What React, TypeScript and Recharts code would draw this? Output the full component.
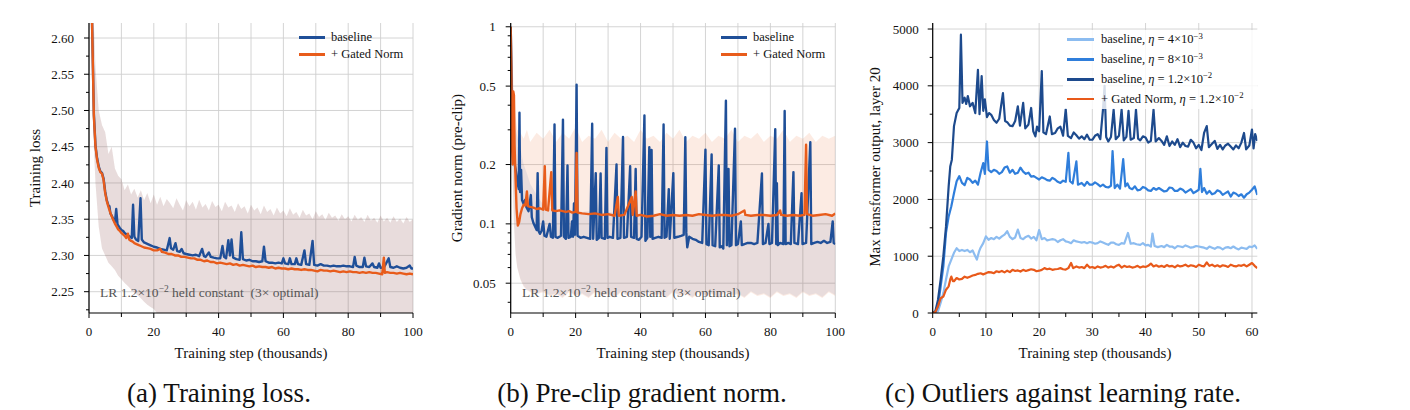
import React from 'react';
import { ComposedChart, Line, Area, XAxis, YAxis, CartesianGrid, Legend } from 'recharts';

const SERIF = '"Liberation Serif", "Times New Roman", Times, serif';
const BLUE = '#1f4f98';
const ORANGE = '#e85c1b';
const C_LIGHT = '#8cbcf0';
const C_MID = '#2f7edb';
const C_DARK = '#1d4a8d';
const C_ORANGE = '#e8591a';
const GRID = '#cfcfcf';

// ---------------- Panel (a): training loss ----------------
const A_X_TICKS = [0, 10, 20, 30, 40, 50, 60, 70, 80, 90, 100];
const A_X_LABELS = [0, 20, 40, 60, 80, 100];
const A_Y_TICKS = [2.225, 2.25, 2.275, 2.3, 2.325, 2.35, 2.375, 2.4, 2.425, 2.45, 2.475, 2.5, 2.525, 2.55, 2.575, 2.6];
const A_Y_LABELS = [2.25, 2.3, 2.35, 2.4, 2.45, 2.5, 2.55, 2.6];

const A_BASELINE: [number, number][] = [
  [0.9, 2.63], [1.5, 2.495], [2, 2.452], [2.5, 2.434], [3, 2.423], [3.5, 2.416], [4, 2.414], [4.5, 2.406],
  [5, 2.388], [5.5, 2.376], [6, 2.369], [6.3, 2.368], [6.6, 2.358], [7, 2.355], [7.5, 2.350], [8, 2.346],
  [8.4, 2.364], [8.8, 2.343], [9.5, 2.338], [10, 2.335], [10.5, 2.334], [11, 2.331], [12, 2.328], [12.5, 2.326],
  [13.2, 2.324], [13.6, 2.370], [14.0, 2.326], [14.5, 2.322], [15.2, 2.320], [15.9, 2.379], [16.3, 2.322],
  [17, 2.318], [18, 2.316], [19, 2.314], [19.5, 2.313], [20, 2.312], [21, 2.311], [22, 2.309], [23, 2.308],
  [24, 2.307], [24.9, 2.324], [25.3, 2.310], [26, 2.308], [26.7, 2.317], [27.2, 2.306], [28, 2.305],
  [28.6, 2.309], [29.2, 2.303], [30, 2.302], [31, 2.301], [32, 2.300], [33, 2.301], [34, 2.299], [34.9, 2.309],
  [35.5, 2.299], [36, 2.298], [37, 2.304], [37.6, 2.298], [38.5, 2.297], [39.5, 2.296], [40.5, 2.296],
  [41.2, 2.313], [41.7, 2.298], [42.3, 2.296], [43, 2.321], [43.5, 2.300], [44, 2.322], [44.5, 2.297],
  [45.5, 2.295], [46.5, 2.294], [47, 2.332], [47.5, 2.295], [48.5, 2.293], [49.5, 2.294], [50.5, 2.292],
  [51.5, 2.292], [52.5, 2.291], [53.5, 2.292], [54, 2.312], [54.5, 2.292], [55.5, 2.290], [56.5, 2.290],
  [57.5, 2.289], [58.5, 2.290], [59.5, 2.289], [60, 2.296], [60.5, 2.289], [61.5, 2.288], [62, 2.296],
  [62.5, 2.288], [63.5, 2.288], [64, 2.296], [64.5, 2.288], [65.5, 2.287], [66.5, 2.307], [67, 2.288],
  [68, 2.287], [69, 2.320], [69.5, 2.287], [70.5, 2.286], [71.5, 2.288], [72.5, 2.286], [73.5, 2.286],
  [74.5, 2.285], [75.5, 2.286], [76.5, 2.285], [77.5, 2.285], [78.5, 2.286], [79.5, 2.285], [80.5, 2.285],
  [81.5, 2.284], [82, 2.298], [82.5, 2.286], [83.5, 2.284], [84.5, 2.284], [85, 2.297], [85.5, 2.285],
  [86.5, 2.284], [87.5, 2.289], [88, 2.284], [89, 2.283], [89.5, 2.289], [90, 2.283], [91, 2.283],
  [92.5, 2.296], [93, 2.284], [94, 2.283], [95, 2.285], [96, 2.283], [97, 2.282], [98, 2.283], [99, 2.286],
  [99.5, 2.282], [100, 2.282],
];

const A_GATED: [number, number][] = [
  [0.9, 2.63], [1.5, 2.492], [2, 2.450], [2.5, 2.432], [3, 2.421], [3.5, 2.415], [4, 2.413], [4.5, 2.404],
  [5, 2.386], [5.5, 2.375], [6, 2.367], [6.5, 2.360], [7, 2.354], [7.5, 2.349], [8, 2.344], [8.5, 2.340],
  [9, 2.336], [9.5, 2.334], [10, 2.331], [10.5, 2.329], [11, 2.327], [11.5, 2.324], [12, 2.330], [12.4, 2.322],
  [13, 2.320], [13.5, 2.319], [14, 2.317], [14.5, 2.316], [15, 2.315], [16, 2.313], [17, 2.311], [18, 2.310],
  [19, 2.309], [20, 2.307], [21, 2.307], [22, 2.309], [22.5, 2.305], [23.5, 2.304], [24.5, 2.302], [25.5, 2.302],
  [26.5, 2.300], [27.5, 2.300], [28.5, 2.298], [29.5, 2.298], [30.5, 2.297], [31.5, 2.296], [32.5, 2.296],
  [33.5, 2.294], [34.5, 2.294], [35.5, 2.292], [36.5, 2.293], [37.5, 2.291], [38.5, 2.291], [39.5, 2.289],
  [40.5, 2.290], [41.5, 2.289], [42.5, 2.288], [43.5, 2.289], [44.5, 2.287], [45.5, 2.288], [46.5, 2.286],
  [47.5, 2.287], [48.5, 2.286], [49.5, 2.285], [50.5, 2.286], [51.5, 2.284], [52.5, 2.285], [53.5, 2.284],
  [54.5, 2.284], [55.5, 2.283], [56.5, 2.284], [57.5, 2.282], [58.5, 2.283], [59.5, 2.282], [60.5, 2.282],
  [61.5, 2.281], [62.5, 2.282], [63.5, 2.281], [64.5, 2.281], [65.5, 2.280], [66.5, 2.281], [67.5, 2.280],
  [68.5, 2.280], [69.5, 2.279], [70.5, 2.278], [71.5, 2.280], [72.5, 2.279], [73.5, 2.279], [74.5, 2.278],
  [75.5, 2.279], [76.5, 2.278], [77.5, 2.277], [78.5, 2.278], [79.5, 2.277], [80.5, 2.278], [81.5, 2.277],
  [82.5, 2.277], [83.5, 2.276], [84.5, 2.277], [85.5, 2.276], [86.5, 2.277], [87.5, 2.276], [88.5, 2.276],
  [89.5, 2.275], [90.5, 2.274], [91, 2.297], [91.3, 2.276], [92, 2.277], [93, 2.276], [94, 2.276], [95, 2.275],
  [96, 2.276], [97, 2.275], [98, 2.274], [99, 2.275], [100, 2.274],
];

// raw-data spread around both runs (x, low, high)
const A_BAND: [number, number, number][] = [
  [1, 2.58, 2.70], [1.5, 2.45, 2.62], [2, 2.40, 2.56], [3, 2.34, 2.50], [4, 2.31, 2.48], [5, 2.30, 2.47],
  [6, 2.29, 2.44], [7, 2.285, 2.45], [8, 2.28, 2.42], [9, 2.272, 2.41], [10, 2.267, 2.405], [11, 2.262, 2.39],
  [12, 2.258, 2.398], [13, 2.253, 2.384], [14, 2.249, 2.392], [15, 2.245, 2.38], [16, 2.241, 2.39],
  [17, 2.236, 2.376], [18, 2.232, 2.386], [19, 2.229, 2.372], [20, 2.226, 2.384], [21, 2.22, 2.37],
  [22, 2.215, 2.381], [23, 2.21, 2.368], [24, 2.21, 2.378], [25, 2.21, 2.372], [26, 2.21, 2.365],
  [27, 2.21, 2.379], [28, 2.21, 2.37], [29, 2.21, 2.362], [30, 2.21, 2.376], [31, 2.21, 2.368], [32, 2.21, 2.374],
  [33, 2.21, 2.363], [34, 2.21, 2.377], [35, 2.21, 2.366], [36, 2.21, 2.371], [37, 2.21, 2.362], [38, 2.21, 2.375],
  [39, 2.21, 2.367], [40, 2.21, 2.37], [41, 2.21, 2.361], [42, 2.21, 2.374], [43, 2.21, 2.366], [44, 2.21, 2.369],
  [45, 2.21, 2.36], [46, 2.21, 2.372], [47, 2.21, 2.364], [48, 2.21, 2.368], [49, 2.21, 2.358], [50, 2.21, 2.37],
  [51, 2.21, 2.362], [52, 2.21, 2.366], [53, 2.21, 2.357], [54, 2.21, 2.369], [55, 2.21, 2.36], [56, 2.21, 2.364],
  [57, 2.21, 2.355], [58, 2.21, 2.366], [59, 2.21, 2.358], [60, 2.21, 2.362], [61, 2.21, 2.354], [62, 2.21, 2.365],
  [63, 2.21, 2.356], [64, 2.21, 2.36], [65, 2.21, 2.352], [66, 2.21, 2.363], [67, 2.21, 2.355], [68, 2.21, 2.358],
  [69, 2.21, 2.35], [70, 2.21, 2.361], [71, 2.21, 2.353], [72, 2.21, 2.357], [73, 2.21, 2.349], [74, 2.21, 2.359],
  [75, 2.21, 2.352], [76, 2.21, 2.355], [77, 2.21, 2.348], [78, 2.21, 2.357], [79, 2.21, 2.35], [80, 2.21, 2.354],
  [81, 2.21, 2.347], [82, 2.21, 2.356], [83, 2.21, 2.349], [84, 2.21, 2.353], [85, 2.21, 2.346], [86, 2.21, 2.356],
  [87, 2.21, 2.348], [88, 2.21, 2.352], [89, 2.21, 2.345], [90, 2.21, 2.355], [91, 2.21, 2.347], [92, 2.21, 2.352],
  [93, 2.21, 2.345], [94, 2.21, 2.354], [95, 2.21, 2.346], [96, 2.21, 2.351], [97, 2.21, 2.344], [98, 2.21, 2.353],
  [99, 2.21, 2.346], [100, 2.21, 2.35],
];

// ---------------- Panel (b): gradient norm ----------------
const B_Y_TICKS = [0.04, 0.05, 0.06, 0.07, 0.08, 0.09, 0.1, 0.2, 0.3, 0.4, 0.5, 0.6, 0.7, 0.8, 0.9, 1];
const B_Y_LABELS = [0.05, 0.1, 0.2, 0.5, 1];

const B_BASELINE: [number, number][] = [
  [0, 1.0], [0.3, 0.55], [0.6, 0.28], [1, 0.21], [1.5, 0.19], [2, 0.165], [2.5, 0.15], [2.7, 0.366], [2.9, 0.145],
  [3.2, 0.188], [3.5, 0.132], [4, 0.126], [4.4, 0.132], [4.8, 0.122], [5.5, 0.116], [6.2, 0.14], [6.5, 0.108],
  [7, 0.101], [7.5, 0.097], [8, 0.093], [8.3, 0.181], [8.6, 0.092], [9, 0.089], [9.5, 0.092], [10, 0.103],
  [10.4, 0.087], [11, 0.086], [12, 0.1], [12.4, 0.086], [13, 0.085], [13.5, 0.319], [13.8, 0.086], [14.5, 0.085],
  [15.5, 0.087], [16.1, 0.338], [16.4, 0.086], [17, 0.084], [17.5, 0.198], [17.8, 0.085], [18.5, 0.086],
  [18.9, 0.103], [19.2, 0.086], [19.5, 0.127], [19.8, 0.088], [20.3, 0.508], [20.6, 0.087], [21.5, 0.085],
  [22.5, 0.086], [23.5, 0.085], [24.5, 0.084], [25.1, 0.322], [25.4, 0.084], [26.2, 0.181], [26.5, 0.083],
  [27.2, 0.085], [27.7, 0.18], [28, 0.085], [29, 0.084], [29.5, 0.243], [29.8, 0.085], [30.5, 0.086],
  [31.5, 0.085], [32.6, 0.2], [32.9, 0.084], [33.8, 0.085], [34.6, 0.276], [34.9, 0.085], [35.8, 0.086],
  [36.8, 0.196], [37.1, 0.086], [38, 0.085], [38.5, 0.19], [38.8, 0.084], [39.5, 0.083], [40.3, 0.086],
  [41.2, 0.355], [41.5, 0.082], [42.1, 0.085], [42.7, 0.245], [43, 0.086], [43.4, 0.237], [43.7, 0.084],
  [44.5, 0.085], [45.5, 0.086], [46.5, 0.085], [47.1, 0.319], [47.4, 0.085], [48, 0.086], [48.7, 0.15],
  [49, 0.084], [50.1, 0.181], [50.4, 0.085], [51.5, 0.086], [52.5, 0.087], [53.3, 0.088], [53.8, 0.275],
  [54.1, 0.09], [54.4, 0.076], [55, 0.086], [56, 0.084], [57, 0.083], [58, 0.081], [59, 0.08], [60, 0.238],
  [60.3, 0.079], [61, 0.078], [61.9, 0.225], [62.2, 0.078], [63, 0.077], [64.1, 0.198], [64.4, 0.076],
  [65, 0.077], [65.5, 0.075], [66.3, 0.421], [66.6, 0.078], [67.1, 0.19], [67.4, 0.077], [68, 0.078],
  [69.1, 0.304], [69.4, 0.078], [70, 0.079], [70.9, 0.103], [71.2, 0.078], [72, 0.079], [73, 0.08], [74, 0.08],
  [75, 0.079], [76, 0.08], [77.4, 0.18], [77.7, 0.079], [78.5, 0.08], [79.4, 0.1], [79.7, 0.079], [80.5, 0.08],
  [81.5, 0.302], [81.8, 0.079], [82, 0.161], [82.3, 0.078], [83, 0.08], [84, 0.079], [84.4, 0.374], [84.7, 0.079],
  [85.5, 0.08], [86.3, 0.079], [87.1, 0.183], [87.4, 0.08], [88.5, 0.079], [89.6, 0.143], [89.9, 0.079],
  [91, 0.08], [92.3, 0.26], [92.6, 0.079], [93.5, 0.08], [94.5, 0.081], [95.5, 0.08], [96.5, 0.082],
  [97.5, 0.08], [98.5, 0.081], [99.2, 0.103], [99.5, 0.08], [100, 0.079],
];

const B_GATED: [number, number][] = [
  [0, 1.0], [0.2, 0.6], [0.4, 0.25], [0.6, 0.2], [0.8, 0.47], [1.0, 0.45], [1.2, 0.25], [1.5, 0.17], [1.8, 0.12],
  [2.2, 0.098], [2.6, 0.102], [3, 0.112], [3.5, 0.12], [4, 0.125], [4.5, 0.124], [5, 0.146], [5.3, 0.123],
  [6, 0.122], [7, 0.121], [8, 0.119], [9, 0.12], [10, 0.118], [10.5, 0.196], [10.8, 0.118], [11.5, 0.117],
  [12.5, 0.183], [12.8, 0.117], [14, 0.116], [15, 0.117], [16, 0.116], [17, 0.115], [18, 0.116], [19, 0.114],
  [20, 0.115], [20.3, 0.229], [20.6, 0.114], [22, 0.113], [24, 0.112], [26, 0.113], [28, 0.111], [30, 0.112],
  [32, 0.11], [33, 0.137], [33.3, 0.11], [35, 0.111], [37.3, 0.137], [37.6, 0.111], [38.5, 0.146], [38.8, 0.11],
  [40, 0.111], [42, 0.109], [44, 0.11], [46, 0.112], [48, 0.11], [50, 0.111], [52, 0.11], [54, 0.111],
  [56, 0.11], [58, 0.112], [60, 0.111], [62, 0.11], [64, 0.111], [66, 0.111], [68, 0.11], [70, 0.112],
  [72, 0.117], [72.3, 0.111], [74, 0.11], [76, 0.111], [78, 0.111], [80, 0.11], [82, 0.111], [83, 0.117],
  [83.3, 0.111], [85, 0.11], [87, 0.111], [89, 0.11], [90.5, 0.111], [91, 0.252], [91.3, 0.112], [93, 0.11],
  [95, 0.111], [97, 0.112], [99, 0.11], [100, 0.113],
];

// raw-data spread (x, low, high of baseline, high of gated)
const B_BAND: [number, number, number, number][] = [
  [0.5, 0.2, 0.5, 0.7], [1, 0.1, 0.32, 0.45], [1.5, 0.07, 0.3, 0.35], [2, 0.06, 0.28, 0.3], [3, 0.052, 0.24, 0.29],
  [4, 0.048, 0.2, 0.27], [5, 0.046, 0.18, 0.3], [6, 0.045, 0.16, 0.26], [8, 0.044, 0.14, 0.29], [10, 0.045, 0.125, 0.27],
  [12, 0.043, 0.12, 0.3], [14, 0.044, 0.118, 0.26], [16, 0.042, 0.117, 0.29], [18, 0.045, 0.116, 0.27],
  [20, 0.043, 0.117, 0.31], [22, 0.044, 0.115, 0.26], [24, 0.042, 0.116, 0.28], [26, 0.045, 0.115, 0.27],
  [28, 0.043, 0.114, 0.3], [30, 0.044, 0.115, 0.26], [32, 0.042, 0.114, 0.29], [34, 0.045, 0.113, 0.27],
  [36, 0.043, 0.114, 0.28], [38, 0.044, 0.113, 0.26], [40, 0.042, 0.113, 0.3], [42, 0.045, 0.112, 0.27],
  [44, 0.043, 0.113, 0.28], [46, 0.044, 0.112, 0.26], [48, 0.042, 0.112, 0.29], [50, 0.045, 0.112, 0.27],
  [52, 0.043, 0.112, 0.3], [54, 0.044, 0.111, 0.26], [56, 0.042, 0.112, 0.28], [58, 0.045, 0.111, 0.27],
  [60, 0.043, 0.111, 0.29], [62, 0.044, 0.111, 0.26], [64, 0.042, 0.111, 0.28], [66, 0.045, 0.111, 0.27],
  [68, 0.043, 0.111, 0.3], [70, 0.044, 0.111, 0.26], [72, 0.042, 0.111, 0.28], [74, 0.045, 0.111, 0.27],
  [76, 0.043, 0.111, 0.29], [78, 0.044, 0.111, 0.26], [80, 0.042, 0.111, 0.28], [82, 0.045, 0.111, 0.27],
  [84, 0.043, 0.111, 0.3], [86, 0.044, 0.111, 0.26], [88, 0.042, 0.111, 0.28], [90, 0.045, 0.111, 0.27],
  [92, 0.043, 0.111, 0.29], [94, 0.044, 0.111, 0.26], [96, 0.042, 0.111, 0.28], [98, 0.045, 0.111, 0.27],
  [100, 0.043, 0.111, 0.28],
];

// ---------------- Panel (c): outliers vs learning rate ----------------
const C_X_TICKS = [0, 5, 10, 15, 20, 25, 30, 35, 40, 45, 50, 55, 60];
const C_X_LABELS = [0, 10, 20, 30, 40, 50, 60];
const C_Y_TICKS = [0, 500, 1000, 1500, 2000, 2500, 3000, 3500, 4000, 4500, 5000];
const C_Y_LABELS = [0, 1000, 2000, 3000, 4000, 5000];

const C_ETA_4E3: [number, number][] = [
  [0, 0], [0.5, 0], [1, 30], [1.5, 180], [2, 350], [2.5, 590], [3, 820], [3.5, 940], [4, 1060], [4.5, 1140],
  [5, 1090], [5.5, 1110], [6, 1090], [6.5, 1110], [7, 1070], [7.5, 1100], [8, 1000], [8.3, 940], [8.7, 1080],
  [9, 1150], [9.5, 1230], [10, 1350], [10.5, 1290], [11, 1320], [11.5, 1300], [12, 1340], [12.5, 1310],
  [13, 1350], [13.5, 1380], [14, 1440], [14.5, 1340], [15, 1300], [15.5, 1330], [16, 1470], [16.5, 1320],
  [17, 1300], [17.5, 1340], [18, 1360], [18.5, 1310], [19, 1340], [19.5, 1280], [20, 1460], [20.5, 1300],
  [21, 1320], [21.5, 1280], [22, 1290], [22.5, 1300], [23, 1290], [23.5, 1250], [24, 1280], [24.5, 1300],
  [25, 1260], [25.5, 1250], [26, 1230], [26.5, 1280], [27, 1260], [27.5, 1250], [28, 1240], [28.5, 1250],
  [29, 1230], [29.5, 1250], [30, 1240], [30.5, 1220], [31, 1230], [31.5, 1260], [32, 1240], [32.5, 1220],
  [33, 1200], [33.5, 1240], [34, 1240], [34.5, 1210], [35, 1200], [35.5, 1230], [36, 1220], [36.7, 1410],
  [37.2, 1220], [37.8, 1230], [38.3, 1210], [39, 1200], [39.5, 1230], [40, 1190], [40.5, 1200], [41, 1170],
  [41.3, 1400], [41.7, 1180], [42.3, 1160], [43, 1180], [43.5, 1160], [44, 1200], [44.5, 1170], [45, 1170],
  [45.5, 1140], [46, 1180], [46.5, 1170], [47, 1160], [47.5, 1190], [48, 1170], [48.5, 1150], [49, 1160],
  [49.5, 1180], [50, 1170], [50.5, 1160], [51, 1150], [51.5, 1130], [52, 1170], [52.5, 1150], [53, 1130],
  [53.5, 1160], [54, 1150], [54.5, 1120], [55, 1150], [55.5, 1160], [56, 1140], [56.5, 1170], [57, 1140],
  [57.5, 1120], [58, 1150], [58.5, 1140], [59, 1130], [59.5, 1170], [60, 1160], [60.5, 1190], [61, 1130],
];

const C_ETA_8E3: [number, number][] = [
  [0, 0], [0.5, 10], [1, 120], [1.5, 470], [2, 820], [2.5, 1410], [3, 1700], [3.5, 1880], [4, 2110], [4.5, 2320],
  [5, 2410], [5.5, 2290], [6, 2250], [6.5, 2380], [7, 2350], [7.5, 2290], [8, 2330], [8.5, 2260], [9, 2470],
  [9.5, 2640], [9.8, 2450], [10.2, 3020], [10.5, 2520], [11, 2480], [11.5, 2520], [12, 2500], [12.5, 2450],
  [13, 2480], [13.5, 2560], [14, 2580], [14.5, 2470], [15, 2520], [15.5, 2450], [16, 2470], [16.5, 2560],
  [17, 2490], [17.5, 2450], [18, 2470], [18.5, 2400], [19, 2410], [19.5, 2380], [20, 2350], [20.5, 2390],
  [21, 2370], [21.5, 2340], [22, 2330], [22.5, 2380], [23, 2350], [23.5, 2310], [24, 2290], [24.5, 2330],
  [25, 2310], [25.5, 2820], [25.8, 2320], [26.3, 2280], [27, 2670], [27.3, 2260], [28, 2290], [28.5, 2240],
  [29, 2310], [29.5, 2260], [30, 2260], [30.5, 2300], [31, 2270], [31.5, 2230], [32, 2260], [32.5, 2220],
  [33, 2210], [33.5, 2240], [33.8, 2850], [34.2, 2200], [34.7, 2260], [35.2, 2190], [35.8, 2710], [36.2, 2230],
  [36.6, 2280], [37, 2200], [37.5, 2180], [38, 2230], [38.5, 2160], [39, 2170], [39.5, 2220], [40, 2200],
  [40.5, 2160], [41, 2150], [41.5, 2200], [42, 2170], [42.5, 2200], [43, 2170], [43.5, 2140], [44, 2150],
  [44.5, 2210], [45, 2200], [45.5, 2150], [46, 2150], [46.5, 2190], [47, 2170], [47.5, 2120], [48, 2150],
  [48.5, 2180], [49, 2110], [49.5, 2140], [50, 2170], [50.3, 2540], [50.6, 2130], [51, 2200], [51.5, 2100],
  [52, 2150], [52.5, 2090], [53, 2110], [53.5, 2160], [54, 2140], [54.5, 2080], [55, 2110], [55.5, 2140],
  [56, 2050], [56.5, 2120], [57, 2100], [57.5, 2060], [58, 2090], [58.5, 2030], [59, 2090], [59.5, 2120],
  [60, 2170], [60.5, 2230], [61, 2080],
];

const C_ETA_12E3: [number, number][] = [
  [0, 0], [0.5, 30], [1, 235], [1.5, 590], [2, 1000], [2.5, 1520], [3, 2230], [3.3, 2580], [3.6, 2700],
  [4, 3290], [4.5, 3520], [5, 3610], [5.3, 4900], [5.6, 3700], [6, 3790], [6.3, 3680], [6.6, 3820], [7, 3640],
  [7.5, 3700], [8, 3520], [8.5, 4280], [8.8, 3500], [9.2, 4170], [9.5, 3560], [9.8, 3760], [10.2, 3450],
  [10.6, 3520], [11, 3490], [11.5, 3400], [12, 3350], [12.5, 3420], [13.2, 3870], [13.6, 3380], [14, 3360],
  [14.5, 3300], [15, 3290], [15.5, 3380], [16, 3640], [16.4, 3300], [17, 3700], [17.4, 3250], [18, 3320],
  [18.5, 3610], [18.9, 3200], [19.3, 3110], [19.6, 3280], [20, 3200], [20.5, 4260], [20.8, 3180], [21.3, 3150],
  [22, 3460], [22.4, 3150], [23, 3170], [23.5, 3250], [24, 3280], [24.5, 3120], [25, 3590], [25.4, 3120],
  [26, 3080], [26.5, 3180], [27, 3130], [27.5, 3070], [28, 3110], [28.5, 3060], [29, 3140], [29.5, 3050],
  [30, 3050], [30.5, 3120], [31, 3150], [31.5, 3060], [32, 3580], [32.3, 4000], [32.6, 3100], [33, 3020],
  [33.5, 3100], [34, 3580], [34.4, 3060], [35, 3120], [35.5, 3580], [35.9, 3040], [36.4, 3100], [36.8, 3560],
  [37.2, 3050], [37.8, 3080], [38.2, 3580], [38.6, 3070], [39, 3040], [39.5, 3110], [40, 3090], [40.5, 3000],
  [41, 3030], [41.5, 3580], [41.9, 3020], [42.5, 3080], [43, 3030], [43.5, 2960], [44, 3110], [44.5, 2940],
  [45, 3020], [45.5, 2960], [46, 3060], [46.5, 2920], [47, 3000], [47.5, 2940], [48, 2930], [48.5, 3050],
  [49, 3000], [49.5, 2900], [50, 2960], [50.5, 2870], [51, 3170], [51.5, 3290], [51.9, 2920], [52.5, 2980],
  [53, 3030], [53.5, 2890], [54, 2960], [54.5, 2880], [55, 2950], [55.5, 2980], [56, 2930], [56.5, 2880],
  [57, 2950], [57.5, 2900], [58, 3000], [58.5, 3170], [58.9, 2880], [59.5, 2950], [60, 3230], [60.3, 2900],
  [60.6, 3150], [61, 3030],
];

const C_GATED_12E3: [number, number][] = [
  [0, 0], [0.5, 15], [1, 120], [1.5, 260], [2, 290], [2.5, 410], [3, 470], [3.3, 590], [3.5, 640], [3.8, 560],
  [4, 560], [4.5, 615], [5, 590], [5.5, 600], [6, 640], [6.5, 620], [7, 640], [7.5, 660], [8, 670], [8.5, 690],
  [9, 700], [9.5, 680], [10, 700], [10.5, 720], [11, 715], [11.5, 700], [12, 735], [12.5, 720], [13, 740],
  [13.5, 715], [14, 745], [14.5, 720], [15, 760], [15.5, 740], [16, 750], [16.5, 730], [17, 760], [17.5, 740],
  [18, 755], [18.5, 770], [19, 760], [19.5, 735], [20, 745], [20.5, 760], [21, 790], [21.5, 770], [22, 780],
  [22.5, 760], [23, 770], [23.5, 775], [24, 790], [24.5, 770], [25, 765], [25.5, 790], [26, 880], [26.4, 790],
  [27, 820], [27.5, 800], [28, 810], [28.5, 790], [29, 850], [29.5, 800], [30, 810], [30.5, 790], [31, 820],
  [31.5, 800], [32, 810], [32.5, 830], [33, 800], [33.5, 820], [34, 800], [34.5, 830], [35, 850], [35.5, 800],
  [36, 830], [36.5, 810], [37, 820], [37.5, 800], [38, 810], [38.5, 830], [39, 800], [39.5, 820], [40, 810],
  [40.5, 830], [41, 870], [41.5, 820], [42, 840], [42.5, 815], [43, 830], [43.5, 810], [44, 845], [44.5, 820],
  [45, 830], [45.5, 805], [46, 840], [46.5, 820], [47, 830], [47.5, 850], [48, 820], [48.5, 840], [49, 830],
  [49.5, 810], [50, 850], [50.5, 830], [51, 820], [51.5, 890], [52, 830], [52.5, 850], [53, 820], [53.5, 840],
  [54, 815], [54.5, 840], [55, 830], [55.5, 810], [56, 850], [56.5, 830], [57, 820], [57.5, 840], [58, 830],
  [58.5, 850], [59, 820], [59.5, 850], [60, 880], [60.5, 830], [61, 790],
];

// ---------------- helpers ----------------
const pts = (arr: [number, number][]) => arr.map(([x, y]) => ({ x, y }));
const isIn = (arr: number[], v: number) => arr.some((a) => Math.abs(a - v) < 1e-9);

const A_BAND_DATA = A_BAND.map(([x, lo, hi]) => ({ x, range: [lo, hi] }));
const B_BAND_BASE_DATA = B_BAND.map(([x, lo, hiB]) => ({ x, range: [lo + 0.0005, hiB] }));
const B_BAND_GATED_DATA = B_BAND.map(([x, lo, , hiG]) => ({ x, range: [lo, hiG] }));

const makeYTick = (labels: number[], fmt: (v: number) => string, margin: number) => (props: any) => {
  const { x, y, payload } = props;
  const v = payload.value;
  const major = isIn(labels, v);
  const ax = x + margin;
  return (
    <g>
      <line x1={ax - (major ? 5 : 3)} x2={ax} y1={y} y2={y} stroke="#000" strokeWidth={1} />
      {major && (
        <text x={x} y={y} dy="0.35em" textAnchor="end" fontFamily={SERIF} fontSize={13} fill="#111">
          {fmt(v)}
        </text>
      )}
    </g>
  );
};

const makeXTick = (labels: number[], margin: number) => (props: any) => {
  const { x, y, payload } = props;
  const v = payload.value;
  const major = isIn(labels, v);
  const ay = y - margin;
  return (
    <g>
      <line x1={x} x2={x} y1={ay} y2={ay + (major ? 5 : 4)} stroke="#000" strokeWidth={1} />
      {major && (
        <text x={x} y={y} dy="0.71em" textAnchor="middle" fontFamily={SERIF} fontSize={13} fill="#111">
          {String(v)}
        </text>
      )}
    </g>
  );
};

const AXIS_LINE = { stroke: '#000', strokeWidth: 1.2 };

const LEGEND_AB = [
  { label: 'baseline', color: BLUE },
  { label: '+ Gated Norm', color: ORANGE },
];

const LEGEND_C = [
  { name: 'baseline', mant: '4×10', exp: '−3', color: C_LIGHT },
  { name: 'baseline', mant: '8×10', exp: '−3', color: C_MID },
  { name: 'baseline', mant: '1.2×10', exp: '−2', color: C_DARK },
  { name: '+ Gated Norm', mant: '1.2×10', exp: '−2', color: C_ORANGE },
];

const LegendAB = () => (
  <div style={{ fontFamily: SERIF, fontSize: 12.5, color: '#111' }}>
    {LEGEND_AB.map((it) => (
      <div key={it.label} style={{ display: 'flex', alignItems: 'center', height: 16.6, whiteSpace: 'nowrap' }}>
        <div style={{ width: 26, height: 2.8, background: it.color, marginRight: 6 }} />
        <span>{it.label}</span>
      </div>
    ))}
  </div>
);

const LegendC = () => (
  <div
    style={{
      fontFamily: SERIF,
      fontSize: 12.5,
      color: '#111',
      background: 'rgba(255,255,255,0.82)',
      padding: '0 6px 0 4px',
      width: 184,
    }}
  >
    {LEGEND_C.map((it, i) => (
      <div key={i} style={{ display: 'flex', alignItems: 'center', height: 19.8, whiteSpace: 'nowrap' }}>
        <div style={{ width: 27, height: 2.8, background: it.color, marginRight: 7 }} />
        <span>
          {it.name}, <i>η</i> = {it.mant}
          <span style={{ fontSize: '0.7em', position: 'relative', top: '-0.5em' }}>{it.exp}</span>
        </span>
      </div>
    ))}
  </div>
);

const lineProps = { type: 'linear' as const, dataKey: 'y', dot: false, isAnimationActive: false, strokeLinejoin: 'round' as const };

function PanelA() {
  return (
    <ComposedChart width={430} height={370} margin={{ top: 23, right: 17, bottom: 27, left: 39 }}>
      <CartesianGrid stroke={GRID} strokeWidth={0.9} horizontalValues={A_Y_LABELS} verticalValues={A_X_TICKS} />
      <XAxis type="number" dataKey="x" domain={[0, 100]} allowDataOverflow ticks={A_X_TICKS} interval={0}
        tickSize={0} tickMargin={13.8} tickLine={false} axisLine={AXIS_LINE} tick={makeXTick(A_X_LABELS, 13.8)} height={30} />
      <YAxis type="number" domain={[2.2206, 2.6207]} allowDataOverflow ticks={A_Y_TICKS} interval={0}
        tickSize={0} tickMargin={15} tickLine={false} axisLine={AXIS_LINE}
        tick={makeYTick(A_Y_LABELS, (v) => v.toFixed(2), 15)} width={50} />
      <Area data={A_BAND_DATA} dataKey="range" type="linear" stroke="none" fill={ORANGE} fillOpacity={0.12} isAnimationActive={false} legendType="none" />
      <Area data={A_BAND_DATA} dataKey="range" type="linear" stroke="none" fill={BLUE} fillOpacity={0.09} isAnimationActive={false} legendType="none" />
      <Line {...lineProps} data={pts(A_BASELINE)} name="baseline" stroke={BLUE} strokeWidth={2.4} />
      <Line {...lineProps} data={pts(A_GATED)} name="+ Gated Norm" stroke={ORANGE} strokeWidth={2.4} />
      <Legend layout="vertical" align="center" verticalAlign="middle" content={() => <LegendAB />}
        wrapperStyle={{ left: 299, top: 29.4, width: 'auto' }} />
    </ComposedChart>
  );
}

function PanelB() {
  return (
    <ComposedChart width={420} height={370} margin={{ top: 23, right: 14.7, bottom: 27, left: 30.7 }}>
      <CartesianGrid stroke={GRID} strokeWidth={0.9} horizontalValues={B_Y_LABELS} verticalValues={A_X_TICKS} />
      <XAxis type="number" dataKey="x" domain={[0, 100]} allowDataOverflow ticks={A_X_TICKS} interval={0}
        tickSize={0} tickMargin={13.8} tickLine={false} axisLine={AXIS_LINE} tick={makeXTick(A_X_LABELS, 13.8)} height={30} />
      <YAxis type="number" scale="log" domain={[0.0353, 1.045]} allowDataOverflow ticks={B_Y_TICKS} interval={0}
        tickSize={0} tickMargin={15} tickLine={false} axisLine={AXIS_LINE}
        tick={makeYTick(B_Y_LABELS, (v) => String(v), 15)} width={50} />
      <Area data={B_BAND_GATED_DATA} dataKey="range" type="linear" stroke="none" fill={ORANGE} fillOpacity={0.12} isAnimationActive={false} legendType="none" />
      <Area data={B_BAND_BASE_DATA} dataKey="range" type="linear" stroke="none" fill={BLUE} fillOpacity={0.09} isAnimationActive={false} legendType="none" />
      <Line {...lineProps} data={pts(B_BASELINE)} name="baseline" stroke={BLUE} strokeWidth={2.4} />
      <Line {...lineProps} data={pts(B_GATED)} name="+ Gated Norm" stroke={ORANGE} strokeWidth={2.4} />
      <Legend layout="vertical" align="center" verticalAlign="middle" content={() => <LegendAB />}
        wrapperStyle={{ left: 291, top: 29.4, width: 'auto' }} />
    </ComposedChart>
  );
}

function PanelC() {
  return (
    <ComposedChart width={420} height={370} margin={{ top: 23, right: 22.7, bottom: 27, left: 22.7 }}>
      <CartesianGrid stroke={GRID} strokeWidth={0.9} horizontalValues={C_Y_LABELS} verticalValues={C_X_LABELS} />
      <XAxis type="number" dataKey="x" domain={[0, 61]} allowDataOverflow ticks={C_X_TICKS} interval={0}
        tickSize={0} tickMargin={13.8} tickLine={false} axisLine={AXIS_LINE} tick={makeXTick(C_X_LABELS, 13.8)} height={30} />
      <YAxis type="number" domain={[0, 5106]} allowDataOverflow ticks={C_Y_TICKS} interval={0}
        tickSize={0} tickMargin={14} tickLine={false} axisLine={AXIS_LINE}
        tick={makeYTick(C_Y_LABELS, (v) => String(v), 14)} width={50} />
      <Line {...lineProps} data={pts(C_ETA_4E3)} name="light" stroke={C_LIGHT} strokeWidth={2.2} />
      <Line {...lineProps} data={pts(C_ETA_8E3)} name="mid" stroke={C_MID} strokeWidth={2.2} />
      <Line {...lineProps} data={pts(C_ETA_12E3)} name="dark" stroke={C_DARK} strokeWidth={2.2} />
      <Line {...lineProps} data={pts(C_GATED_12E3)} name="gated" stroke={C_ORANGE} strokeWidth={2.2} />
      <Legend layout="vertical" align="center" verticalAlign="middle" content={() => <LegendC />}
        wrapperStyle={{ left: 203, top: 29.8, width: 'auto' }} />
    </ComposedChart>
  );
}

const Annot = ({ x, y }: { x: number; y: number }) => (
  <text x={x} y={y} fontFamily={SERIF} fontSize={13.5} fill="#555">
    LR 1.2×10
    <tspan dy={-5} fontSize={9.5}>−2</tspan>
    <tspan dy={5}>{' held constant\u00a0\u00a0(3× optimal)'}</tspan>
  </text>
);

const YTitle = ({ x, y, text }: { x: number; y: number; text: string }) => (
  <text x={x} y={y} transform={`rotate(-90 ${x} ${y})`} textAnchor="middle" dominantBaseline="central"
    fontFamily={SERIF} fontSize={15} fill="#111">{text}</text>
);

const XTitle = ({ x, y, text }: { x: number; y: number; text: string }) => (
  <text x={x} y={y} textAnchor="middle" dominantBaseline="central" fontFamily={SERIF} fontSize={15} fill="#111">{text}</text>
);

const Caption = ({ x, text }: { x: number; text: string }) => (
  <text x={x} y={402} textAnchor="middle" fontFamily={SERIF} fontSize={27} fill="#111">{text}</text>
);

export default function App() {
  return (
    <div style={{ position: 'absolute', left: 0, top: 0, width: 1410, height: 410, background: '#fff', overflow: 'hidden' }}>
      <div style={{ position: 'absolute', left: 0, top: 0 }}><PanelA /></div>
      <div style={{ position: 'absolute', left: 430, top: 0 }}><PanelB /></div>
      <div style={{ position: 'absolute', left: 860, top: 0 }}><PanelC /></div>
      <svg width={1410} height={410} style={{ position: 'absolute', left: 0, top: 0, pointerEvents: 'none' }}>
        <Annot x={100} y={296.5} />
        <Annot x={522} y={296.5} />
        <YTitle x={35} y={168} text="Training loss" />
        <YTitle x={456.7} y={168} text="Gradient norm (pre-clip)" />
        <YTitle x={875} y={167} text="Max transformer output, layer 20" />
        <XTitle x={251} y={352.7} text="Training step (thousands)" />
        <XTitle x={673} y={352.7} text="Training step (thousands)" />
        <XTitle x={1095} y={352.7} text="Training step (thousands)" />
        <Caption x={219} text="(a) Training loss." />
        <Caption x={642} text="(b) Pre-clip gradient norm." />
        <Caption x={1063} text="(c) Outliers against learning rate." />
      </svg>
    </div>
  );
}
